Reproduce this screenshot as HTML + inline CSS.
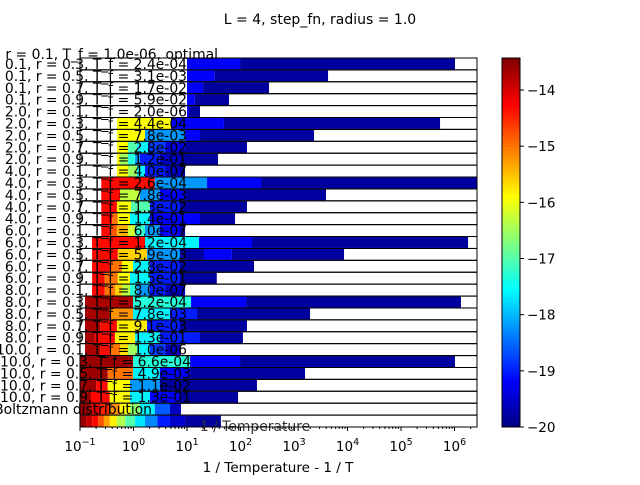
<!DOCTYPE html>
<html><head><meta charset="utf-8"><style>
body{margin:0;background:#fff}
svg text{font-family:"DejaVu Sans","Liberation Sans",sans-serif}
</style></head><body>
<svg id="chart" width="640" height="480" xmlns="http://www.w3.org/2000/svg">
<text x="320" y="24" font-size="14" text-anchor="middle">L = 4, step_fn, radius = 1.0</text>
<g id="bars"></g>
<g id="labels"></g>
<rect x="80" y="58" width="397" height="369" fill="none" stroke="#000" stroke-width="1"/>
<g id="xaxis"></g>
<text x="278" y="472" font-size="13.5" text-anchor="middle">1 / Temperature - 1 / T</text>
<g id="cbar"></g>
</svg>
<script>
const rowLabels=["r = 0.1, T_f = 1.0e-06, optimal",
"T_i = 0.1, r = 0.3, T_f = 2.4e-04","T_i = 0.1, r = 0.5, T_f = 3.1e-03","T_i = 0.1, r = 0.7, T_f = 1.7e-02","T_i = 0.1, r = 0.9, T_f = 5.9e-02",
"T_i = 2.0, r = 0.1, T_f = 2.0e-06","T_i = 2.0, r = 0.3, T_f = 4.4e-04","T_i = 2.0, r = 0.5, T_f = 7.8e-03","T_i = 2.0, r = 0.7, T_f = 2.8e-02","T_i = 2.0, r = 0.9, T_f = 1.2e-01",
"T_i = 4.0, r = 0.1, T_f = 4.0e-07","T_i = 4.0, r = 0.3, T_f = 2.6e-04","T_i = 4.0, r = 0.5, T_f = 7.8e-03","T_i = 4.0, r = 0.7, T_f = 1.3e-02","T_i = 4.0, r = 0.9, T_f = 1.4e-01",
"T_i = 6.0, r = 0.1, T_f = 6.0e-07","T_i = 6.0, r = 0.3, T_f = 1.2e-04","T_i = 6.0, r = 0.5, T_f = 5.9e-03","T_i = 6.0, r = 0.7, T_f = 2.8e-02","T_i = 6.0, r = 0.9, T_f = 1.5e-01",
"T_i = 8.0, r = 0.1, T_f = 8.0e-07","T_i = 8.0, r = 0.3, T_f = 5.2e-04","T_i = 8.0, r = 0.5, T_f = 7.8e-03","T_i = 8.0, r = 0.7, T_f = 9.1e-03","T_i = 8.0, r = 0.9, T_f = 1.3e-01",
"T_i = 10.0, r = 0.1, T_f = 1.0e-06","T_i = 10.0, r = 0.3, T_f = 6.6e-04","T_i = 10.0, r = 0.5, T_f = 4.9e-03","T_i = 10.0, r = 0.7, T_f = 1.1e-02","T_i = 10.0, r = 0.9, T_f = 1.3e-01",
"Boltzmann distribution"];
// bar start (1/T) per bar row
const rowStarts=[10,10,10,10,10,0.49,0.49,0.49,0.49,0.49,0.25,0.25,0.25,0.25,0.25,0.168,0.168,0.168,0.168,0.168,0.124,0.124,0.124,0.124,0.124,0.1,0.1,0.1,0.1,0.1,0.1];
// segment end points (1/T) per bar row
const segEnds=[
[98,1.02e6],[33,4323],[20,341],[14,61],[10.9,17.5],
[5.0,49,5.36e5],[1.64,9.2,17.5,2366],[0.79,1.16,1.87,3.9,9.2,132],[0.56,0.79,1.07,1.32,3.1,7.4,38],[0.79,1.16,1.64,3.9,7.4,9.2],
[2.5,23.7,242,2.6e6],[0.56,1.32,3.1,9.2,3966],[0.49,0.9,2.03,7.4,132],[0.4,0.51,0.86,2.03,17.5,79],[0.36,0.49,0.79,1.07,1.64,3.1,7.4,9.2],
[1.64,16.8,164,1.79e6],[0.51,1.79,7.4,20.8,69,8610],[0.36,0.61,0.98,2.03,7.4,179],[0.29,0.51,0.86,2.03,7.4,36],[0.29,0.45,0.61,0.86,1.16,2.03,3.9,9.2],
[0.98,11.9,127,1.32e6],[0.36,0.98,4.8,15.4,1993],[0.24,0.49,1.79,7.4,132],[0.19,0.45,1.07,3.1,17.5,111],[0.24,0.36,0.56,0.79,1.16,2.03,3.9,7.7],
[0.98,11.4,98,1.02e6],[0.33,0.98,3.1,11.4,1607],[0.2,0.33,0.86,3.1,203],[0.16,0.36,0.86,2.03,7.4,90],[0.16,0.24,0.36,0.56,0.86,1.32,2.5,4.8,7.7],
[0.13,0.17,0.22,0.28,0.36,0.49,0.7,1.07,1.64,2.8,4.8,9.2,43]];
// colour values (log scale, colorbar) per segment
const segVals=[
[-19.2,-19.8],[-19.2,-19.8],[-19.2,-19.8],[-19.2,-19.8],[-19.2,-19.8],
[-15.9,-19.2,-19.8],[-15.9,-18.2,-19.2,-19.8],[-15.9,-17.0,-17.6,-18.8,-19.4,-19.8],[-15.9,-16.5,-17.3,-18.2,-19.0,-19.6,-19.8],[-15.9,-16.5,-17.6,-19.0,-19.6,-19.8],
[-14.3,-18.2,-19.2,-19.8],[-14.3,-16.3,-18.2,-19.2,-19.8],[-14.3,-15.9,-17.0,-19.0,-19.8],[-14.3,-15.0,-15.9,-17.6,-19.2,-19.8],[-14.3,-14.8,-15.4,-16.2,-17.2,-18.2,-19.2,-19.8],
[-14.3,-17.6,-19.2,-19.8],[-14.3,-15.6,-18.2,-19.8,-19.2,-19.8],[-14.3,-15.0,-15.9,-17.6,-19.0,-19.8],[-14.3,-15.0,-15.9,-17.6,-19.0,-19.8],[-14.3,-15.0,-15.6,-16.3,-17.3,-18.2,-19.0,-19.6],
[-13.7,-17.3,-19.2,-19.8],[-13.7,-15.2,-17.6,-19.0,-19.8],[-13.7,-14.3,-15.8,-19.0,-19.8],[-13.7,-14.3,-15.8,-17.6,-19.0,-19.8],[-13.7,-14.3,-15.0,-15.7,-16.5,-17.6,-18.8,-19.6],
[-13.6,-17.3,-19.2,-19.8],[-13.6,-15.0,-17.6,-19.2,-19.8],[-13.6,-14.3,-15.9,-18.2,-19.8],[-13.6,-14.3,-15.9,-17.6,-19.2,-19.8],[-13.6,-14.0,-14.5,-15.2,-15.9,-16.6,-17.6,-18.6,-19.6],
[-13.6,-13.9,-14.3,-14.8,-15.3,-15.8,-16.4,-17.0,-17.7,-18.3,-19.0,-19.5,-19.8]];
const xTickExps=[-1,0,1,2,3,4,5,6];
const cbarTicks=[-14,-15,-16,-17,-18,-19,-20];

const X0=80,X1=477,Y0=58,Y1=427,LMIN=-1,LMAX=6.42;
const NR=rowStarts.length,RH=(Y1-Y0)/NR;
const VMIN=-20,VMAX=-13.43;
function xs(v){return X0+(Math.log10(v)-LMIN)/(LMAX-LMIN)*(X1-X0);}
function ys(i){return Y0+i*RH;}
function cy(v){return Y1-(v-VMIN)/(VMAX-VMIN)*(Y1-Y0);}
function jet(t){t=Math.max(0,Math.min(1,t));
 function c(x){return Math.round(255*Math.max(0,Math.min(1,x)));}
 const r=c(1.5-Math.abs(4*t-3)),g=c(1.5-Math.abs(4*t-2)),b=c(1.5-Math.abs(4*t-1));
 return `rgb(${r},${g},${b})`;}
function cm(v){return jet((v-VMIN)/(VMAX-VMIN));}
const NS="http://www.w3.org/2000/svg";
function mk(tag,attrs,parent){const e=document.createElementNS(NS,tag);for(const k in attrs)e.setAttribute(k,attrs[k]);parent.appendChild(e);return e;}
const gb=document.getElementById('bars'),gl=document.getElementById('labels');
for(let i=0;i<NR;i++){
 const y=ys(i);
 const bg=mk('rect',{x:X0,y:y,width:X1-X0,height:RH,fill:'#fff',stroke:'#000','stroke-width':1},gb);
 
 
 let s=rowStarts[i];
 const ends=segEnds[i],vals=segVals[i];
 for(let j=0;j<ends.length;j++){
  const xa=xs(s),xb=Math.min(xs(ends[j]),X1);
  const r=mk('rect',{x:xa,y:y+0.5,width:Math.max(0,xb-xa),height:RH-1,fill:cm(vals[j])},gb);
  
  
  s=ends[j];
 }
}
for(let i=0;i<NR;i++){const y=ys(i);mk('line',{x1:X0,x2:X1,y1:y,y2:y,stroke:'#000','stroke-width':1},gb);}
for(let i=0;i<rowLabels.length;i++){
 let endX=187;
 if(i===0)endX=218; else if(i===30)endX=152; else if(i>=26)endX=191;
 const yc=Y0+(i-0.5)*RH+(i===0?2:0);
 const t=mk('text',{x:endX,y:yc+5,'font-size':13.9,'text-anchor':'end'},gl);
 t.textContent=rowLabels[i];
 
 
}
const t2=mk('text',{x:255,y:431,'font-size':13.9,'text-anchor':'middle',fill:'#333'},gl);
t2.textContent='1 / Temperature';


const gx=document.getElementById('xaxis');
for(const e of xTickExps){
 const x=xs(Math.pow(10,e));
 mk('line',{x1:x,x2:x,y1:Y1,y2:Y1+4,stroke:'#000'},gx);
 const t=mk('text',{x:x,y:451,'font-size':13.5,'text-anchor':'middle'},gx);
 t.innerHTML='10<tspan dy="-6" font-size="9.5">'+(e<0?'\u2212'+(-e):e)+'</tspan>';
 
 
 for(let k=2;k<10;k++){const xm=xs(k*Math.pow(10,e));if(xm<=X1)mk('line',{x1:xm,x2:xm,y1:Y1,y2:Y1+2,stroke:'#000'},gx);}
}
const gc=document.getElementById('cbar');
const CX=502,CW=18;
for(let k=0;k<100;k++){const v0=VMIN+(VMAX-VMIN)*k/100,v1=VMIN+(VMAX-VMIN)*(k+1)/100;
 mk('rect',{x:CX,y:cy(v1),width:CW,height:cy(v0)-cy(v1)+0.5,fill:cm((v0+v1)/2)},gc);}
const cf=mk('rect',{x:CX,y:Y0,width:CW,height:Y1-Y0,fill:'none',stroke:'#000'},gc);


for(const v of cbarTicks){const y=cy(v);
 mk('line',{x1:CX+CW,x2:CX+CW+4,y1:y,y2:y,stroke:'#000'},gc);
 const t=mk('text',{x:CX+CW+7,y:y+5,'font-size':13.5},gc);
 t.textContent='\u2212'+(-v);
 
 
}
</script>
</body></html>
